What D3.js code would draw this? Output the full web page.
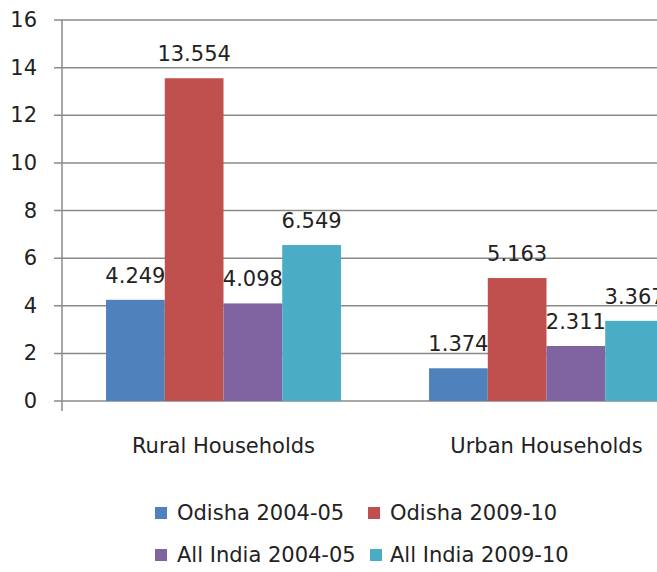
<!DOCTYPE html>
<html>
<head>
<meta charset="utf-8">
<script src="https://cdn.jsdelivr.net/npm/d3@7"></script>
<style>
  html, body { margin: 0; padding: 0; background: #fff; overflow: hidden; }
  svg { display: block; }
  text { font-family: "DejaVu Sans", sans-serif; font-size: 21px; fill: #222; }
</style>
</head>
<body>
<svg id="chart" width="657" height="572"></svg>
<script>
// Categories and series
const categories = ["Rural Households", "Urban Households"];
const seriesNames = ["Odisha 2004-05", "Odisha 2009-10", "All India 2004-05", "All India 2009-10"];
const seriesColors = ["#4F81BD", "#C0504D", "#8064A2", "#4BACC6"];

// Values per series, in category order
const odisha0405 = [4.249, 1.374];
const odisha0910 = [13.554, 5.163];
const india0405 = [4.098, 2.311];
const india0910 = [6.549, 3.367];
const seriesValues = [odisha0405, odisha0910, india0405, india0910];

// Y axis ticks
const yTicks = [0, 2, 4, 6, 8, 10, 12, 14, 16];

const svg = d3.select("#chart");

const plotLeft = 62, plotRight = 708, plotTop = 20, plotBottom = 401;

const y = d3.scaleLinear().domain([0, 16]).range([plotBottom, plotTop]);
const x0 = d3.scaleBand().domain(categories).range([plotLeft, plotRight]).padding(0);
const x1 = d3.scaleBand().domain(seriesNames).range([0, x0.bandwidth()])
  .paddingInner(0).paddingOuter(0.75);

// Gridlines
svg.append("g").selectAll("line").data(yTicks).join("line")
  .attr("x1", plotLeft - 8).attr("x2", 657)
  .attr("y1", d => y(d)).attr("y2", d => y(d))
  .attr("stroke", "#8a8a8a").attr("stroke-width", 1.5);

// Y axis line
svg.append("line")
  .attr("x1", plotLeft).attr("x2", plotLeft)
  .attr("y1", plotTop).attr("y2", plotBottom + 10)
  .attr("stroke", "#8a8a8a").attr("stroke-width", 1.5);

// Y tick labels
svg.append("g").selectAll("text").data(yTicks).join("text")
  .attr("x", 37).attr("y", d => y(d))
  .attr("text-anchor", "end").attr("dominant-baseline", "central")
  .text(d => d);

// Bars
const rows = [];
categories.forEach((c, ci) => {
  seriesNames.forEach((s, si) => {
    rows.push({ cat: c, series: s, value: seriesValues[si][ci], color: seriesColors[si] });
  });
});

svg.append("g").selectAll("rect").data(rows).join("rect")
  .attr("x", d => x0(d.cat) + x1(d.series))
  .attr("width", x1.bandwidth())
  .attr("y", d => y(d.value))
  .attr("height", d => y(0) - y(d.value))
  .attr("fill", d => d.color);

// Value labels
svg.append("g").selectAll("text").data(rows).join("text")
  .attr("x", d => x0(d.cat) + x1(d.series) + x1.bandwidth() / 2)
  .attr("y", d => y(d.value) - 17)
  .attr("text-anchor", "middle")
  .text(d => d3.format(".3f")(d.value));

// Category labels
svg.append("g").selectAll("text").data(categories).join("text")
  .attr("x", d => x0(d) + x1.bandwidth() * 2 + x1(seriesNames[0]))
  .attr("y", 453)
  .attr("text-anchor", "middle")
  .attr("fill", "#333")
  .text(d => d);

// Legend (two rows of two entries)
const legendPos = [
  { sx: 155, tx: 177, y: 513 },
  { sx: 368, tx: 390, y: 513 },
  { sx: 155, tx: 177, y: 555 },
  { sx: 370, tx: 390, y: 555 }
];
const legend = svg.append("g").selectAll("g").data(seriesNames).join("g");
legend.append("rect")
  .attr("x", (d, i) => legendPos[i].sx)
  .attr("y", (d, i) => legendPos[i].y - 6)
  .attr("width", 12).attr("height", 12)
  .attr("fill", (d, i) => seriesColors[i]);
legend.append("text")
  .attr("x", (d, i) => legendPos[i].tx)
  .attr("y", (d, i) => legendPos[i].y)
  .attr("dominant-baseline", "central")
  .attr("fill", "#333")
  .text(d => d);
</script>
</body>
</html>
